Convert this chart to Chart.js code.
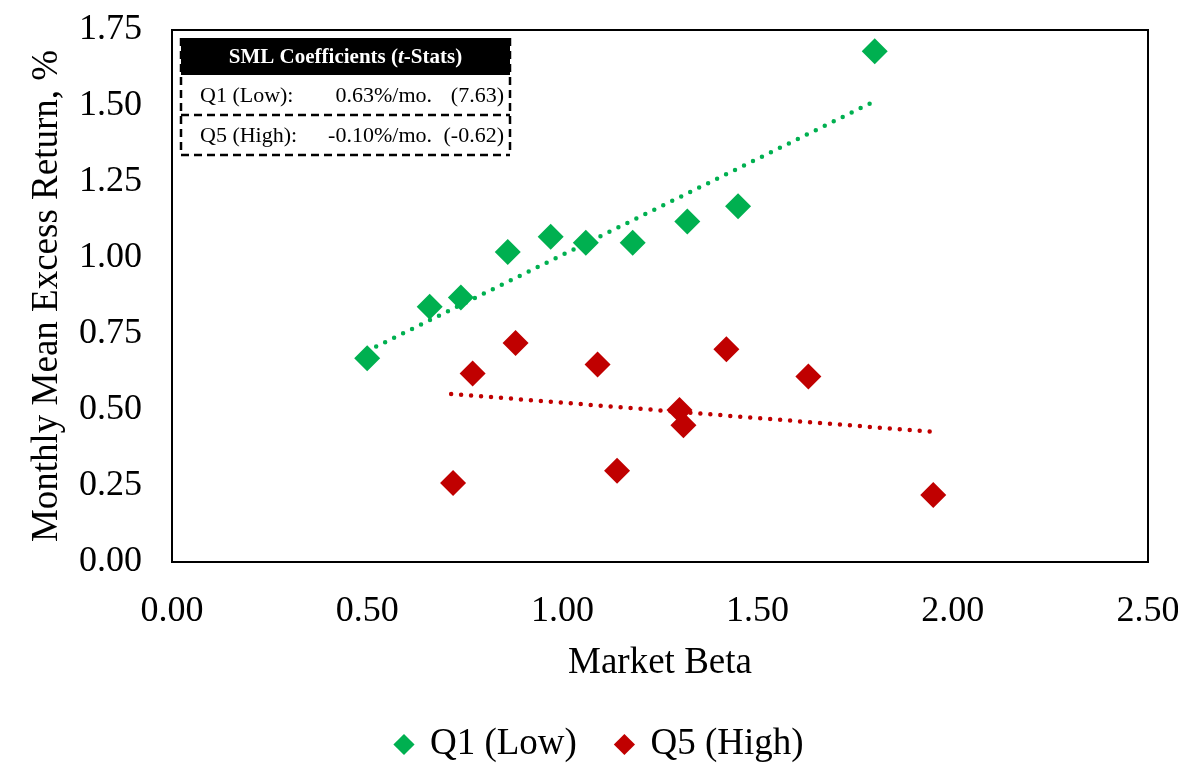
<!DOCTYPE html>
<html>
<head>
<meta charset="utf-8">
<script src="https://cdn.jsdelivr.net/npm/chart.js@4.4.1/dist/chart.umd.min.js"></script>
<style>
  html, body { margin: 0; padding: 0; background: #fff; }
  #wrap { width: 1178px; height: 767px; }
</style>
</head>
<body>
<div id="wrap"><canvas id="myChart" width="1178" height="767"></canvas></div>
<script>
// values
const q1Beta = [0.50, 0.66, 0.74, 0.86, 0.97, 1.06, 1.18, 1.32, 1.45, 1.80];
const q1Ret  = [0.67, 0.84, 0.87, 1.02, 1.07, 1.05, 1.05, 1.12, 1.17, 1.68];
const q5Beta = [0.72, 0.77, 0.88, 1.09, 1.14, 1.30, 1.31, 1.42, 1.63, 1.95];
const q5Ret  = [0.26, 0.62, 0.72, 0.65, 0.30, 0.50, 0.45, 0.70, 0.61, 0.22];

// fitted SML trendline end points
const q1TrendBeta = [0.50, 1.80];
const q1TrendRet  = [0.694, 1.516];
const q5TrendBeta = [0.715, 1.95];
const q5TrendRet  = [0.553, 0.428];

const xTicks = [0, 0.5, 1, 1.5, 2, 2.5];
const yTicks = [0, 0.25, 0.5, 0.75, 1, 1.25, 1.5, 1.75];

const tableRows = [
    ['Q1 (Low):', '0.63%/mo.', '(7.63)'],
    ['Q5 (High):', '-0.10%/mo.', '(-0.62)']
];

const green = '#00B050';
const red = '#C00000';
const FONT = "'Liberation Serif', serif";

const toPts = (xs, ys) => xs.map((x, i) => ({ x: x, y: ys[i] }));

// box around the plot area + SML coefficient table
const framePlugin = {
    id: 'frame',
    afterLayout(chart) {
        // nudge the legend a bit right, like the original
        chart.legend.left += 26;
        chart.legend.right += 26;
    },
    afterDraw(chart) {
        const { ctx, chartArea: a } = chart;
        ctx.save();
        ctx.strokeStyle = '#000';
        ctx.lineWidth = 2;
        ctx.strokeRect(a.left, a.top, a.right - a.left, a.bottom - a.top);

        const x0 = a.left + 9, x1 = a.left + 338;
        const y0 = a.top + 8, yh = a.top + 45, y1 = a.top + 85, y2 = a.top + 125;

        ctx.fillStyle = '#000';
        ctx.fillRect(x0, y0, x1 - x0, yh - y0);

        ctx.setLineDash([8, 5]);
        ctx.lineWidth = 2.5;
        ctx.beginPath();
        ctx.moveTo(x0, y0); ctx.lineTo(x0, y2);
        ctx.moveTo(x1, y0); ctx.lineTo(x1, y2);
        ctx.moveTo(x0, y1); ctx.lineTo(x1, y1);
        ctx.moveTo(x0, y2); ctx.lineTo(x1, y2);
        ctx.stroke();
        ctx.setLineDash([]);

        // header
        ctx.fillStyle = '#fff';
        ctx.textBaseline = 'middle';
        const parts = [
            ['SML Coefficients (', 'bold 21px ' + FONT],
            ['t', 'italic bold 21px ' + FONT],
            ['-Stats)', 'bold 21px ' + FONT]
        ];
        let total = 0;
        parts.forEach(p => { ctx.font = p[1]; total += ctx.measureText(p[0]).width; });
        let tx = (x0 + x1) / 2 - total / 2;
        ctx.textAlign = 'left';
        parts.forEach(p => {
            ctx.font = p[1];
            ctx.fillText(p[0], tx, (y0 + yh) / 2 + 1);
            tx += ctx.measureText(p[0]).width;
        });

        // rows
        ctx.fillStyle = '#000';
        ctx.font = '22px ' + FONT;
        const rowMid = [(yh + y1) / 2 + 1, (y1 + y2) / 2 + 1];
        tableRows.forEach((r, i) => {
            ctx.textAlign = 'left';
            ctx.fillText(r[0], x0 + 19, rowMid[i]);
            ctx.textAlign = 'right';
            ctx.fillText(r[1], x0 + 251, rowMid[i]);
            ctx.fillText(r[2], x1 - 6, rowMid[i]);
        });
        ctx.restore();
    }
};

const ctx = document.getElementById('myChart').getContext('2d');
const myChart = new Chart(ctx, {
    type: 'scatter',
    data: {
        datasets: [
            {
                label: 'Q1 (Low)',
                data: toPts(q1Beta, q1Ret),
                backgroundColor: green,
                borderColor: green,
                pointStyle: 'rectRot',
                pointRadius: 13,
                pointHoverRadius: 13,
                borderWidth: 0,
                order: 1
            },
            {
                label: 'Q5 (High)',
                data: toPts(q5Beta, q5Ret),
                backgroundColor: red,
                borderColor: red,
                pointStyle: 'rectRot',
                pointRadius: 13,
                pointHoverRadius: 13,
                borderWidth: 0,
                order: 1
            },
            {
                label: 'trend1',
                data: toPts(q1TrendBeta, q1TrendRet),
                showLine: true,
                borderColor: green,
                borderWidth: 4.5,
                borderDash: [0, 10],
                borderCapStyle: 'round',
                pointRadius: 0,
                order: 2
            },
            {
                label: 'trend5',
                data: toPts(q5TrendBeta, q5TrendRet),
                showLine: true,
                borderColor: red,
                borderWidth: 4.5,
                borderDash: [0, 10],
                borderCapStyle: 'round',
                pointRadius: 0,
                order: 2
            }
        ]
    },
    options: {
        responsive: false,
        animation: false,
        layout: { padding: { left: 0, right: 30, top: 30, bottom: -6 } },
        scales: {
            x: {
                type: 'linear',
                min: 0,
                max: 2.5,
                afterBuildTicks: s => { s.ticks = xTicks.map(v => ({ value: v })); },
                afterFit: s => { s.height = 124; s.paddingLeft = 0; s.paddingRight = 0; },
                grid: { display: false },
                border: { display: false },
                ticks: {
                    color: '#000',
                    padding: 20,
                    font: { family: FONT, size: 36 },
                    callback: v => Number(v).toFixed(2)
                },
                title: {
                    display: true,
                    text: 'Market Beta',
                    color: '#000',
                    font: { family: FONT, size: 37 },
                    padding: { top: 10, bottom: 1 }
                }
            },
            y: {
                min: 0,
                max: 1.75,
                afterBuildTicks: s => { s.ticks = yTicks.map(v => ({ value: v })); },
                afterFit: s => { s.width = 172; s.paddingTop = 0; s.paddingBottom = 0; },
                grid: { display: false },
                border: { display: false },
                ticks: {
                    color: '#000',
                    padding: 22,
                    font: { family: FONT, size: 36 },
                    callback: v => Number(v).toFixed(2)
                },
                title: {
                    display: true,
                    text: 'Monthly Mean Excess Return, %',
                    color: '#000',
                    font: { family: FONT, size: 37 },
                    padding: { top: 25, bottom: 10 }
                }
            }
        },
        plugins: {
            legend: {
                position: 'bottom',
                labels: {
                    usePointStyle: true,
                    boxHeight: 15,
                    boxWidth: 15,
                    padding: 40,
                    color: '#000',
                    font: { family: FONT, size: 37 },
                    filter: item => item.text.indexOf('trend') !== 0
                }
            },
            tooltip: { enabled: false }
        }
    },
    plugins: [framePlugin]
});
</script>
</body>
</html>
